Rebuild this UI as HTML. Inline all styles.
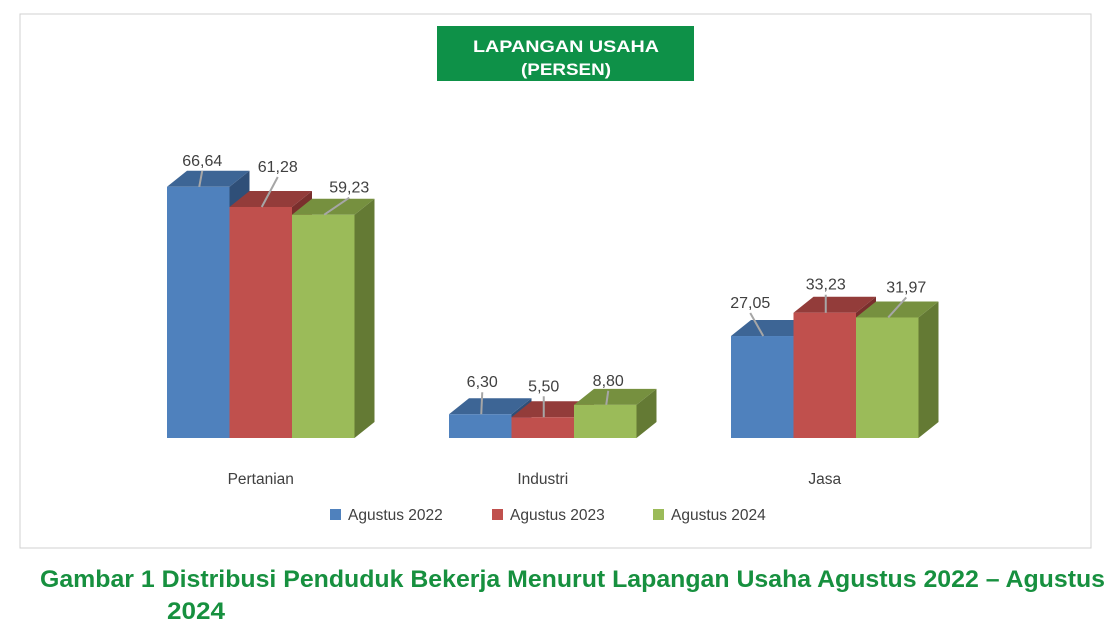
<!DOCTYPE html>
<html><head><meta charset="utf-8">
<style>
body{margin:0;background:#fff;width:1114px;height:628px;overflow:hidden;font-family:"Liberation Sans",sans-serif}
</style></head><body>
<svg id="c" width="1114" height="628" xmlns="http://www.w3.org/2000/svg">
<rect x="20" y="14" width="1071" height="534" fill="#fff" stroke="#d0d0d0"/>
<rect x="437" y="26" width="257" height="55" fill="#0e9148"/>
<text x="566" y="52" text-anchor="middle" fill="#fff" font-size="17" font-weight="bold" textLength="186" lengthAdjust="spacingAndGlyphs">LAPANGAN USAHA</text>
<text x="566" y="75" text-anchor="middle" fill="#fff" font-size="17" font-weight="bold" textLength="90" lengthAdjust="spacingAndGlyphs">(PERSEN)</text>
<g id="bars"></g>
<text x="40" y="587" fill="#17903f" font-size="24" font-weight="bold" textLength="1065" lengthAdjust="spacingAndGlyphs">Gambar 1  Distribusi Penduduk Bekerja Menurut Lapangan Usaha  Agustus 2022 – Agustus</text>
<text x="167" y="619" fill="#17903f" font-size="24" font-weight="bold" textLength="58" lengthAdjust="spacingAndGlyphs">2024</text>
</svg>
<script>
const categories=["Pertanian","Industri","Jasa"];
const seriesNames=["Agustus 2022","Agustus 2023","Agustus 2024"];
const s2022=[66.64,6.30,27.05];
const s2023=[61.28,5.50,33.23];
const s2024=[59.23,8.80,31.97];
const labels2022=["66,64","6,30","27,05"];
const labels2023=["61,28","5,50","33,23"];
const labels2024=["59,23","8,80","31,97"];
const series=[s2022,s2023,s2024];
const seriesLabels=[labels2022,labels2023,labels2024];
const colors=[["#4f81bd","#3d6595","#2f4f78"],["#c0504d","#933c3a","#7a2f2d"],["#9bbb59","#76903f","#647a34"]];
const base=438, scale=3.77, bw=62.5, dx=20, dy=16;
// label placement offsets (layout only)
const offX=[[4,17,26],[2,1,3],[-12,1,19]];
const offY=[[-21,-35,-22],[-27,-26,-19],[-28,-23,-25]];
const y=v=>base-v*scale;
const x0=i=>167+i*282;
const g=document.getElementById('bars');
const NS='http://www.w3.org/2000/svg';
function mk(t,a){const e=document.createElementNS(NS,t);for(const k in a)e.setAttribute(k,a[k]);g.appendChild(e);return e;}
categories.forEach((c,i)=>{
  series.forEach((s,j)=>{
    const x=x0(i)+j*bw, t=y(s[i]), col=colors[j];
    const side=mk('polygon',{points:`${x+bw},${t} ${x+bw+dx},${t-dy} ${x+bw+dx},${base-dy} ${x+bw},${base}`,fill:col[2]});
    
    
    const top=mk('polygon',{points:`${x},${t} ${x+dx},${t-dy} ${x+bw+dx},${t-dy} ${x+bw},${t}`,fill:col[1]});
    
    
    const r=mk('rect',{x:x,y:t,width:bw,height:base-t,fill:col[0]});
    
    
    const bc=x+bw/2;
    const lx=bc+offX[i][j], ly=t+offY[i][j];
    const ln=mk('line',{x1:bc+1,y1:t,x2:lx,y2:ly+5,stroke:'#a6a6a6','stroke-width':2});
    
    
    const tx=mk('text',{x:lx,y:ly,'text-anchor':'middle','font-size':16,fill:'#404040'});
    tx.textContent=seriesLabels[j][i];
    
    
  });
  const cl=mk('text',{x:x0(i)+bw*1.5,y:484,'text-anchor':'middle','font-size':15.5,fill:'#404040'});
  cl.textContent=c;
  
  
});
const lxs=[330,492,653];
seriesNames.forEach((n,j)=>{
  const r=mk('rect',{x:lxs[j],y:509,width:11,height:11,fill:colors[j][0]});
  
  
  const t=mk('text',{x:lxs[j]+18,y:520,'font-size':15.5,fill:'#404040'});
  t.textContent=n;
  
  
});
</script>
</body></html>
